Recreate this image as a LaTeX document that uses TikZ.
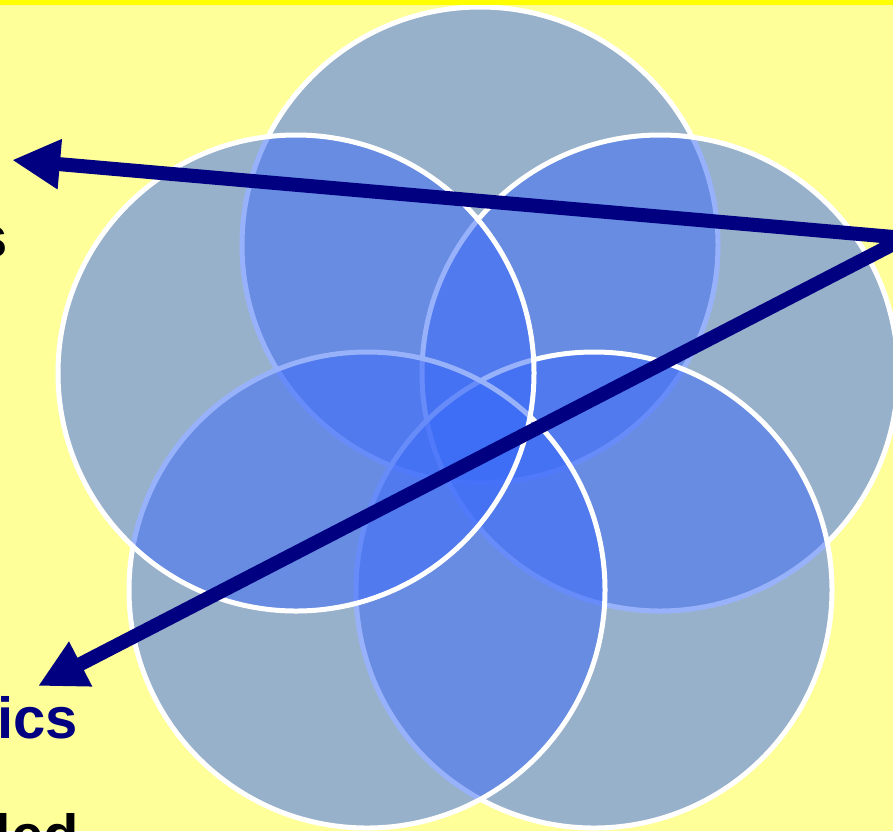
\documentclass[tikz,border=0pt]{standalone}
\usepackage{fontspec}
\setmainfont{Liberation Sans}
\usetikzlibrary{arrows.meta}
\definecolor{bgyellow}{RGB}{255,255,153}
\definecolor{stripyellow}{RGB}{255,255,0}
\definecolor{petal}{RGB}{59,107,249}
\definecolor{navyarrow}{RGB}{0,0,128}
\tikzset{
  petalcircle/.style={fill=petal, fill opacity=0.52, draw=white, draw opacity=1, line width=5pt},
  bigarrow/.style={draw=navyarrow, line width=14pt, -{Triangle[length=48pt,width=47pt]}},
  fragtext/.style={inner sep=0pt, font=\fontsize{58}{62}\selectfont\bfseries}
}
\begin{document}
\begin{tikzpicture}[x=1pt,y=-1pt]
\useasboundingbox (0,0) rectangle (893,831);
\clip (0,0) rectangle (893,831);
\fill[bgyellow] (0,0) rectangle (893,831);
% petals (draw order matters)
\coordinate (ctop) at (480,245);
\coordinate (cur) at (660,373);
\coordinate (clr) at (594,590);
\coordinate (cll) at (367,590);
\coordinate (cul) at (296,373);
\path[petalcircle] (ctop) circle[radius=238pt];
\path[petalcircle] (cur) circle[radius=238pt];
\path[petalcircle] (clr) circle[radius=238pt];
\path[petalcircle] (cll) circle[radius=238pt];
\path[petalcircle] (cul) circle[radius=238pt];
% arrows
\coordinate (src) at (905,238);
\coordinate (tipa) at (12,160);
\coordinate (tipb) at (38,686);
\draw[bigarrow] (src) -- (tipa);
\draw[bigarrow] (src) -- (tipb);
% text fragments
\node[fragtext, text=black, anchor=base east] (ts) at (8,257) {s};
\node[fragtext, text=navyarrow, anchor=base east] (tics) at (78,738) {ics};
\node[fragtext, text=black, anchor=base east] (tded) at (79,855) {ded};
% top strip
\fill[stripyellow] (0,0) rectangle (893,5);
\end{tikzpicture}
\end{document}
